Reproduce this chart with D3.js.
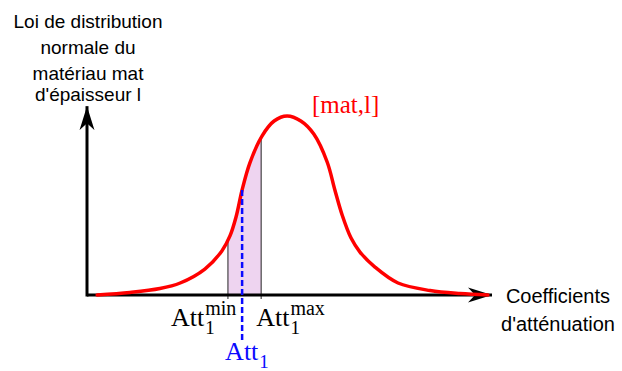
<!DOCTYPE html>
<html><head><meta charset="utf-8">
<script src="https://cdn.jsdelivr.net/npm/d3@7"></script>
<style>html,body{margin:0;padding:0;background:#fff;}svg{display:block;}</style>
</head><body>
<script>
// ---- data ----
const curveX = [0.25, 1.06, 1.80, 2.30, 2.91, 3.33, 3.53, 3.68, 3.83, 4.02, 4.32, 4.62, 4.94, 5.28, 5.60, 5.93, 6.12, 6.30, 6.52, 6.74, 7.11, 7.68, 8.47, 9.21, 9.90];
const curveY = [0, 0.014, 0.036, 0.067, 0.145, 0.246, 0.330, 0.436, 0.587, 0.737, 0.888, 0.972, 1.0, 0.972, 0.899, 0.743, 0.587, 0.447, 0.318, 0.240, 0.156, 0.067, 0.025, 0.008, 0];
const attMin = 3.48, att1 = 3.83, attMax = 4.30;
const yAxisLines = ["Loi de distribution", "normale du", "matériau mat", "d'épaisseur l"];
const xAxisLines = ["Coefficients", "d'atténuation"];
const seriesLabel = "[mat,l]";

const W = 622, H = 371;
const svg = d3.select("body").append("svg").attr("width", W).attr("height", H);
const x = d3.scaleLinear().domain([0, 10]).range([87, 492]);
const y = d3.scaleLinear().domain([0, 1]).range([295, 116]);
const pts = curveX.map((v, i) => [v, curveY[i]]);

const defs = svg.append("defs");
defs.append("marker").attr("id", "arr").attr("markerUnits", "userSpaceOnUse")
  .attr("viewBox", "-24 -9 26 18").attr("refX", 0).attr("refY", 0)
  .attr("markerWidth", 26).attr("markerHeight", 18).attr("orient", "auto")
  .append("path").attr("d", "M0,0 L-24,-7.5 L-17,0 L-24,7.5 Z").attr("fill", "#000");
defs.append("clipPath").attr("id", "band").append("rect")
  .attr("x", x(attMin)).attr("width", x(attMax) - x(attMin)).attr("y", 0).attr("height", H);

const curve = d3.curveCatmullRom.alpha(0.5);
const line = d3.line().x(d => x(d[0])).y(d => y(d[1])).curve(curve);
const area = d3.area().x(d => x(d[0])).y0(y(0)).y1(d => y(d[1])).curve(curve);

// shaded band
svg.append("path").attr("d", area(pts)).attr("fill", "#eed4f0").attr("clip-path", "url(#band)");

// hidden path to measure curve height
const probe = svg.append("path").attr("d", line(pts)).attr("fill", "none").attr("stroke", "none");
function curveYAt(px) {
  const node = probe.node(), L = node.getTotalLength();
  let lo = 0, hi = L;
  for (let k = 0; k < 40; k++) { const m = (lo + hi) / 2; if (node.getPointAtLength(m).x < px) lo = m; else hi = m; }
  return node.getPointAtLength(lo).y;
}

// vertical boundary lines
[attMin, attMax].forEach(v => {
  svg.append("line").attr("x1", x(v)).attr("x2", x(v)).attr("y1", curveYAt(x(v))).attr("y2", y(0) + 4)
    .attr("stroke", "#222").attr("stroke-width", 1);
});

// axes
svg.append("line").attr("x1", x(0)).attr("y1", y(0)).attr("x2", x(10)).attr("y2", y(0))
  .attr("stroke", "#000").attr("stroke-width", 3).attr("marker-end", "url(#arr)");
svg.append("line").attr("x1", x(0)).attr("y1", y(0) + 1.5).attr("x2", x(0)).attr("y2", y(1.055))
  .attr("stroke", "#000").attr("stroke-width", 3).attr("marker-end", "url(#arr)");

// curve
svg.append("path").attr("d", line(pts)).attr("fill", "none").attr("stroke", "#ff0000")
  .attr("stroke-width", 3.5).attr("stroke-linecap", "round");

// blue dashed line
svg.append("line").attr("x1", x(att1)).attr("x2", x(att1)).attr("y1", curveYAt(x(att1))).attr("y2", 342)
  .attr("stroke", "#0a0aff").attr("stroke-width", 2.5).attr("stroke-dasharray", "6,3");

// labels
const serif = "'Liberation Serif', 'Times New Roman', serif";
const sans = "'Liberation Sans', Arial, sans-serif";
function attLabel(xs, base, sup, color) {
  const t = svg.append("text").attr("x", xs).attr("y", base).attr("font-family", serif).attr("font-size", 26)
    .attr("fill", color).text("Att");
  const w = t.node().getComputedTextLength();
  svg.append("text").attr("x", xs + w + 1).attr("y", base + 8).attr("font-family", serif).attr("font-size", 19)
    .attr("fill", color).text("1");
  if (sup) svg.append("text").attr("x", xs + w + 1).attr("y", base - 11).attr("font-family", serif).attr("font-size", 20)
    .attr("fill", color).text(sup);
}
attLabel(x(attMin) - 57, 326, "min", "#000");
attLabel(x(attMax) - 5, 326, "max", "#000");
attLabel(x(att1) - 17, 360, null, "#0a0aff");

svg.append("text").attr("x", 312).attr("y", 113).attr("font-family", serif).attr("font-size", 25)
  .attr("fill", "#ff0000").text(seriesLabel);

svg.append("g").selectAll("text").data(yAxisLines).join("text")
  .attr("x", 88).attr("y", (d, i) => [28, 54, 80, 101][i]).attr("text-anchor", "middle")
  .attr("font-family", sans).attr("font-size", 19).attr("fill", "#000").text(d => d);
svg.append("g").selectAll("text").data(xAxisLines).join("text")
  .attr("x", 558).attr("y", (d, i) => [303, 331][i]).attr("text-anchor", "middle")
  .attr("font-family", sans).attr("font-size", 20).attr("fill", "#000").text(d => d);
</script>
</body></html>
